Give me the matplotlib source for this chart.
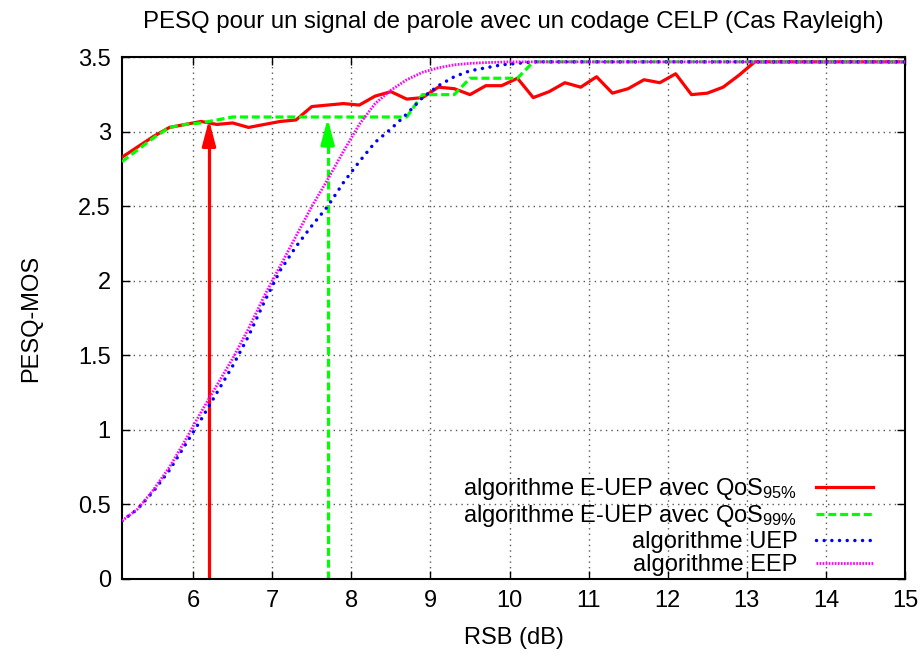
import matplotlib.pyplot as plt

plt.rcParams['font.family'] = ['Liberation Sans', 'DejaVu Sans']
plt.rcParams['mathtext.default'] = 'regular'
plt.rcParams['font.size'] = 17

# E-UEP avec QoS 95%
x_red = [5.1, 5.3, 5.5, 5.7, 5.9, 6.1, 6.3, 6.5, 6.7, 6.9, 7.1, 7.3, 7.5, 7.7, 7.9,
         8.1, 8.3, 8.5, 8.7, 8.9, 9.1, 9.3, 9.5, 9.7, 9.9, 10.1, 10.3, 10.5, 10.7,
         10.9, 11.1, 11.3, 11.5, 11.7, 11.9, 12.1, 12.3, 12.5, 12.7, 12.9, 13.1, 15.0]
y_red = [2.83, 2.90, 2.97, 3.03, 3.05, 3.07, 3.05, 3.06, 3.03, 3.05, 3.07, 3.08, 3.17,
         3.18, 3.19, 3.18, 3.24, 3.27, 3.22, 3.23, 3.30, 3.29, 3.25, 3.31, 3.31, 3.36,
         3.23, 3.27, 3.33, 3.30, 3.37, 3.26, 3.29, 3.35, 3.33, 3.39, 3.25, 3.26, 3.30,
         3.38, 3.47, 3.47]

# E-UEP avec QoS 99%
x_green = [5.1, 5.3, 5.5, 5.7, 5.9, 6.1, 6.3, 6.5, 8.7, 8.9, 9.3, 9.5, 10.1, 10.3, 15.0]
y_green = [2.80, 2.88, 2.96, 3.03, 3.05, 3.06, 3.08, 3.10, 3.10, 3.25, 3.25, 3.36, 3.36,
           3.47, 3.47]

# UEP
x_blue = [5.1, 5.3, 5.5, 5.7, 5.9, 6.1, 6.3, 6.5, 6.7, 6.9, 7.1, 7.3, 7.5, 7.7, 7.9,
          8.1, 8.3, 8.5, 8.7, 8.9, 9.1, 9.3, 9.5, 9.7, 9.9, 10.1, 10.3, 15.0]
y_blue = [0.39, 0.47, 0.59, 0.73, 0.90, 1.07, 1.25, 1.43, 1.63, 1.86, 2.07, 2.23, 2.37,
          2.50, 2.66, 2.80, 2.93, 3.02, 3.12, 3.23, 3.31, 3.37, 3.41, 3.43, 3.45, 3.46,
          3.47, 3.47]

# EEP
x_mag = [5.1, 5.3, 5.5, 5.7, 5.9, 6.1, 6.3, 6.5, 6.7, 6.9, 7.1, 7.3, 7.5, 7.7, 7.9,
         8.1, 8.3, 8.5, 8.7, 8.9, 9.1, 9.3, 9.5, 9.7, 10.0, 15.0]
y_mag = [0.39, 0.47, 0.60, 0.75, 0.93, 1.12, 1.30, 1.48, 1.68, 1.90, 2.10, 2.30, 2.50,
         2.68, 2.87, 3.05, 3.19, 3.28, 3.35, 3.40, 3.43, 3.45, 3.46, 3.465, 3.47, 3.47]

# arrows (RSB, tip value)
arrow_x = [6.2, 7.7]
arrow_top = [3.08, 3.09]
arrow_colors = ['#ff0000', '#00ff00']
arrow_styles = ['-', (0, (2.5, 1.2))]

x_ticks = [6, 7, 8, 9, 10, 11, 12, 13, 14, 15]
y_ticks = [0, 0.5, 1, 1.5, 2, 2.5, 3, 3.5]
y_tick_labels = ['0', '0.5', '1', '1.5', '2', '2.5', '3', '3.5']

labels = ['algorithme E-UEP avec QoS$_{95\\%}$',
          'algorithme E-UEP avec QoS$_{99\\%}$',
          'algorithme UEP',
          'algorithme EEP']

fig = plt.figure(figsize=(9.22, 6.52), dpi=100)
ax = fig.add_axes([0.1323, 0.112, 0.8493, 0.8])

# vertical arrows
for xa, ya, c, ls in zip(arrow_x, arrow_top, arrow_colors, arrow_styles):
    ax.plot([xa, xa], [0, ya - 0.1], color=c, lw=2.3, linestyle=ls, zorder=2)
    ax.annotate('', xy=(xa, ya), xytext=(xa, ya - 0.15),
                arrowprops=dict(arrowstyle='-|>,head_length=0.9,head_width=0.24',
                                color=c, lw=2.3, shrinkA=0, shrinkB=0), zorder=2)

ax.plot(x_red, y_red, color='#ff0000', lw=2.3, label=labels[0], zorder=3)
ax.plot(x_green, y_green, color='#00ff00', lw=2.3, linestyle=(0, (2.5, 1.2)),
        label=labels[1], zorder=3)
ax.plot(x_blue, y_blue, color='#0000ff', lw=2.5, linestyle=(0, (0.01, 2.2)),
        dash_capstyle='round', label=labels[2], zorder=3)
ax.plot(x_mag, y_mag, color='#ff00ff', lw=2.0, linestyle=(0, (0.6, 0.5)),
        label=labels[3], zorder=3)

ax.set_xlim(5.1, 15)
ax.set_ylim(0, 3.5)
ax.set_xticks(x_ticks)
ax.set_yticks(y_ticks)
ax.set_yticklabels(y_tick_labels)
ax.tick_params(direction='in', length=6, width=1, top=True, right=True, pad=8)
ax.grid(True, color='0.35', linestyle=(0, (1, 3)), lw=1)
for s in ax.spines.values():
    s.set_linewidth(1.5)

ax.set_xlabel('RSB (dB)', labelpad=11)
ax.set_ylabel('PESQ-MOS', labelpad=26)
ax.set_title('PESQ pour un signal de parole avec un codage CELP (Cas Rayleigh)',
             fontsize=17.3, pad=21)

ax.legend(loc='lower right', bbox_to_anchor=(0.977, -0.022), frameon=False,
          markerfirst=False, handlelength=2.4, labelspacing=0.06,
          handletextpad=0.8, borderaxespad=0.2)

fig.savefig('out.png', dpi=100)
